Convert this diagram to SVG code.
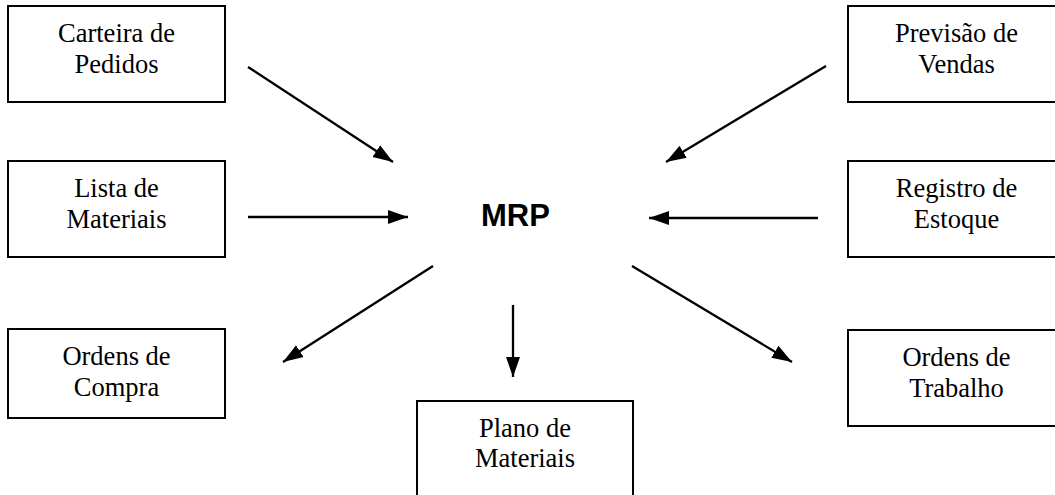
<svg xmlns="http://www.w3.org/2000/svg" width="1055" height="495" viewBox="0 0 1055 495">
<style>
.box{fill:#fff;stroke:#000;stroke-width:2}
.t{font-family:"Liberation Serif","Times New Roman",serif;font-size:26.5px;fill:#000;text-anchor:middle}
.mrp{font-family:"Liberation Sans",Arial,sans-serif;font-size:31px;font-weight:bold;fill:#000;text-anchor:middle}
.c{stroke:#000;stroke-width:2.3;fill:none;marker-end:url(#ah)}
</style>
<defs>
<marker id="ah" markerUnits="userSpaceOnUse" markerWidth="22" markerHeight="16" refX="20" refY="8" orient="auto">
<path d="M0,1 L20,8 L0,15 Z" fill="#000"/>
</marker>
</defs>
<rect width="1055" height="495" fill="#fff"/>
<g id="carteira"><rect class="box" x="8" y="6" width="217" height="96"/><text class="t" x="116.5" y="42">Carteira de</text><text class="t" x="116.5" y="73">Pedidos</text></g>
<g id="lista"><rect class="box" x="8" y="161" width="217" height="96"/><text class="t" x="116.5" y="197">Lista de</text><text class="t" x="116.5" y="228">Materiais</text></g>
<g id="compra"><rect class="box" x="8" y="329" width="217" height="89"/><text class="t" x="116.5" y="365">Ordens de</text><text class="t" x="116.5" y="396">Compra</text></g>
<g id="previsao"><rect class="box" x="848" y="6" width="217" height="96"/><text class="t" x="956.5" y="42">Previsão de</text><text class="t" x="956.5" y="73">Vendas</text></g>
<g id="registro"><rect class="box" x="848" y="161" width="217" height="96"/><text class="t" x="956.5" y="197">Registro de</text><text class="t" x="956.5" y="228">Estoque</text></g>
<g id="trabalho"><rect class="box" x="848" y="330" width="217" height="96"/><text class="t" x="956.5" y="366">Ordens de</text><text class="t" x="956.5" y="397">Trabalho</text></g>
<g id="plano"><rect class="box" x="417" y="401" width="216" height="100"/><text class="t" x="525" y="437">Plano de</text><text class="t" x="525" y="467">Materiais</text></g>
<g id="mrp"><text class="mrp" x="515.5" y="226">MRP</text></g>
<g id="connectors">
<line class="c" x1="248" y1="67" x2="393" y2="162"/>
<line class="c" x1="826" y1="66" x2="666" y2="162"/>
<line class="c" x1="248" y1="217" x2="408" y2="217"/>
<line class="c" x1="818" y1="218" x2="649" y2="218"/>
<line class="c" x1="433" y1="266" x2="283" y2="362"/>
<line class="c" x1="513" y1="305" x2="513" y2="377"/>
<line class="c" x1="632" y1="266" x2="792" y2="362"/>
</g>
</svg>
